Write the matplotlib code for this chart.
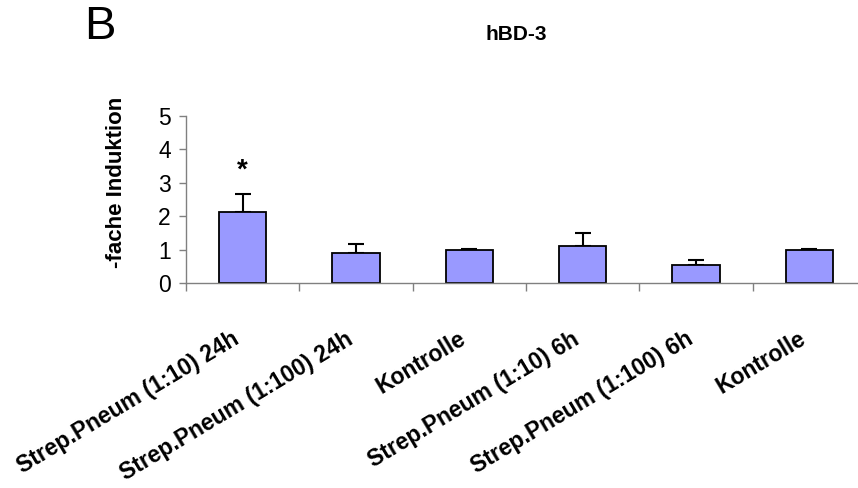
import matplotlib
matplotlib.use("Agg")
import matplotlib.pyplot as plt
import matplotlib.transforms as mtransforms
from matplotlib.ticker import FixedLocator
import numpy as np

categories = ["Strep.Pneum (1:10) 24h", "Strep.Pneum (1:100) 24h", "Kontrolle",
              "Strep.Pneum (1:10) 6h", "Strep.Pneum (1:100) 6h", "Kontrolle"]
values = [2.12, 0.89, 1.0, 1.10, 0.55, 1.0]
errors = [0.54, 0.27, 0.02, 0.41, 0.13, 0.02]
yticks = [0, 1, 2, 3, 4, 5]
title = "hBD-3"
panel = "B"
ylabel = "-fache Induktion"

plt.rcParams['font.family'] = ['Liberation Sans', 'DejaVu Sans']

fig = plt.figure(figsize=(8.58, 4.88), dpi=100)
ax = fig.add_axes([186/858, 1-283/488, (866-186)/858, (283-116)/488])

x = np.arange(len(categories))
ax.bar(x, values, width=0.42, color="#9999FF", edgecolor="black", linewidth=1.3, zorder=2)
ax.errorbar(x, values, yerr=[np.zeros(len(errors)), errors], fmt="none",
            ecolor="black", elinewidth=1.5, capsize=6, capthick=1.5, zorder=1)
ax.text(x[0], values[0] + errors[0] + 0.7, "*", ha="center", va="center",
        fontsize=20, fontweight="bold")

ax.set_xlim(-0.5, len(categories) - 0.5)
ax.set_ylim(0, 5)
ax.set_yticks(yticks)
ax.set_yticklabels([str(t) for t in yticks], fontsize=16.5)
ax.tick_params(axis="y", direction="out", length=5, width=1, color="#808080", pad=6)

ax.set_xticks(x)
ax.set_xticklabels(categories, rotation=31, ha="right", va="top",
                   rotation_mode="anchor", fontsize=16.5, fontweight="bold")
ax.tick_params(axis="x", which="major", length=0, pad=32)
ax.xaxis.set_minor_locator(FixedLocator(np.arange(-0.5, len(categories), 1.0)))
ax.tick_params(axis="x", which="minor", direction="out", length=6, width=1, color="#808080")
shift = mtransforms.ScaledTranslation(-11/100, 0, fig.dpi_scale_trans)
for lbl in ax.get_xticklabels():
    lbl.set_transform(lbl.get_transform() + shift)

for s in ["top", "right"]:
    ax.spines[s].set_visible(False)
for s in ["left", "bottom"]:
    ax.spines[s].set_color("#808080")
    ax.spines[s].set_linewidth(1)

fig.text(117/858, 1-182/488, ylabel, rotation=90, ha="center", va="center",
         fontsize=16, fontweight="bold")
fig.text(516/858, 1-35/488, title, ha="center", va="center", fontsize=15,
         fontweight="bold")
fig.text(100/858, 1-27/488, panel, ha="center", va="center", fontsize=34)

fig.savefig("out.png", dpi=100)
